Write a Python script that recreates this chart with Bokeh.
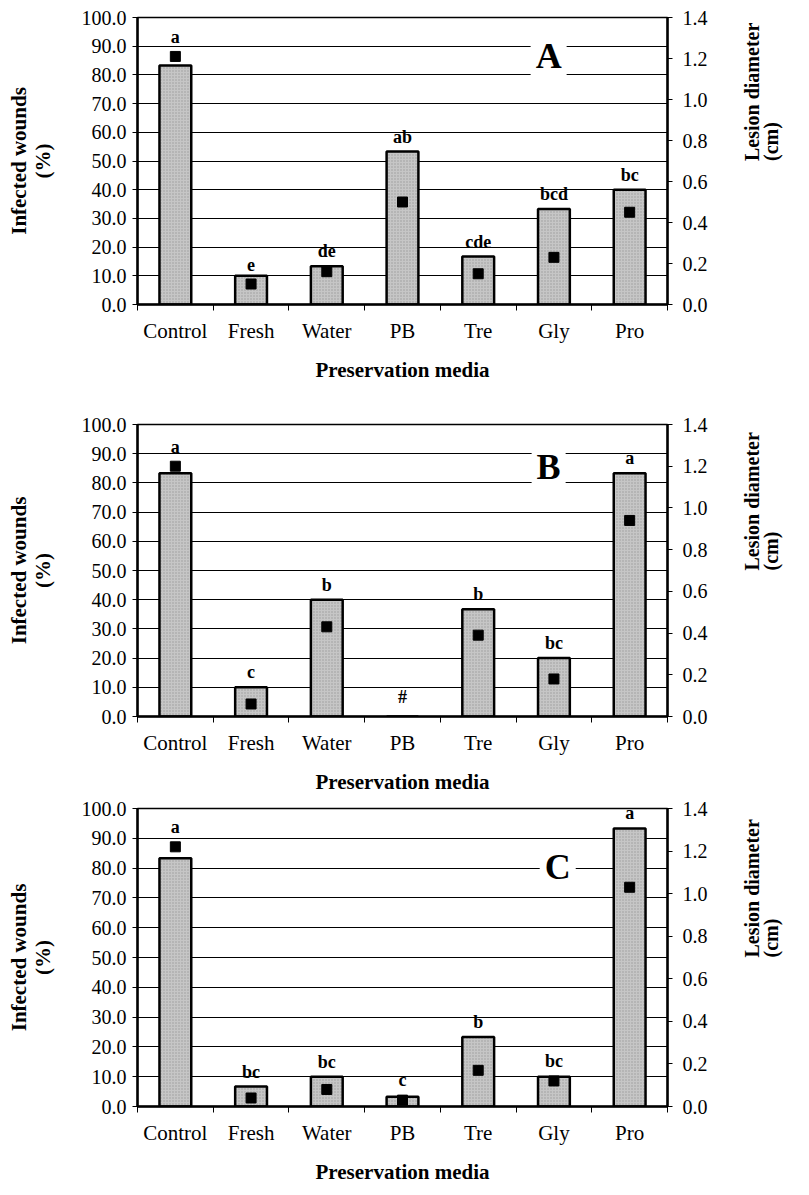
import math
import numpy as np
from bokeh.plotting import figure
from bokeh.models import Range1d, LinearAxis, FixedTicker, NumeralTickFormatter, Label, ColumnDataSource
from bokeh.layouts import column
from bokeh.embed import file_html
from bokeh.resources import INLINE
from bokeh.core.properties import value

categories = ["Control", "Fresh", "Water", "PB", "Tre", "Gly", "Pro"]

infected_A = [83.3, 10.0, 13.3, 53.3, 16.7, 33.3, 40.0]
lesion_A = [1.21, 0.10, 0.16, 0.50, 0.15, 0.23, 0.45]
letters_A = ["a", "e", "de", "ab", "cde", "bcd", "bc"]

infected_B = [83.3, 10.0, 40.0, 0.0, 36.7, 20.0, 83.3]
lesion_B = [1.20, 0.06, 0.43, np.nan, 0.39, 0.18, 0.94]
letters_B = ["a", "c", "b", "#", "b", "bc", "a"]

infected_C = [83.3, 6.7, 10.0, 3.3, 23.3, 10.0, 93.3]
lesion_C = [1.22, 0.04, 0.08, 0.03, 0.17, 0.12, 1.03]
letters_C = ["a", "bc", "bc", "c", "b", "bc", "a"]

left_ticks = [0, 10, 20, 30, 40, 50, 60, 70, 80, 90, 100]
right_ticks = [0.0, 0.2, 0.4, 0.6, 0.8, 1.0, 1.2, 1.4]

SERIF = value("Liberation Serif")


def make_panel(infected, lesion, letters, tag, tag_x, tag_y, height, top, bottom):
    n = len(categories)
    xs = np.arange(n) + 0.5
    p = figure(width=809, height=height, x_range=Range1d(0, n), y_range=Range1d(0, 100),
               output_backend="svg", toolbar_location=None,
               min_border_left=137, min_border_right=142,
               min_border_top=top, min_border_bottom=bottom)
    p.extra_y_ranges = {"lesion": Range1d(0, 1.4)}
    p.background_fill_color = "white"
    p.border_fill_color = "white"
    p.outline_line_color = "black"
    p.outline_line_width = 1.5

    les = np.array(lesion, dtype=float)
    inf = np.array(infected, dtype=float)
    src = ColumnDataSource(dict(x=xs, infected=inf, lesion=les,
                                letter=letters,
                                ly=np.maximum(inf, np.nan_to_num(les) / 1.4 * 100 + 1.6)))

    p.ygrid.ticker = FixedTicker(ticks=left_ticks)
    p.ygrid.grid_line_color = "black"
    p.ygrid.grid_line_width = 1
    p.xgrid.visible = False

    p.vbar(x="x", top="infected", bottom=0, width=0.42, source=src,
           fill_color="#c6c6c6", line_color="black", line_width=2.5,
           hatch_pattern="dot", hatch_scale=3, hatch_weight=1, hatch_color="#7a7a7a", hatch_alpha=0.6)
    p.scatter(x="x", y="lesion", source=src, y_range_name="lesion", marker="square",
              size=10, fill_color="black", line_color="black")
    p.text(x="x", y="ly", text="letter", source=src, text_align="center", text_baseline="bottom",
           y_offset=-5, text_font=SERIF, text_font_style="bold", text_font_size="18px", text_color="black")

    lab = Label(x=tag_x, y=tag_y, text=tag, text_align="center", text_baseline="middle",
                text_font="Liberation Serif", text_font_style="bold", text_font_size="36px",
                text_color="black",
                background_fill_color="white", background_fill_alpha=1.0, padding=5)
    p.add_layout(lab)

    # left axis
    ya = p.yaxis[0]
    ya.ticker = FixedTicker(ticks=left_ticks)
    ya.formatter = NumeralTickFormatter(format="0.0")
    ya.axis_label = "Infected wounds\n(%)"
    ya.axis_label_text_font = "Liberation Serif"
    ya.axis_label_text_font_style = "bold"
    ya.axis_label_text_font_size = "21px"
    ya.axis_label_text_line_height = 1.0
    ya.axis_label_text_color = "black"
    ya.axis_label_standoff = 24
    ya.major_label_text_font = "Liberation Serif"
    ya.major_label_text_font_size = "20px"
    ya.major_label_text_color = "black"
    ya.major_label_standoff = 6
    ya.major_tick_out = 5
    ya.major_tick_in = 0
    ya.minor_tick_line_color = None
    ya.axis_line_width = 2.5

    # right axis
    ra = LinearAxis(y_range_name="lesion", ticker=FixedTicker(ticks=right_ticks),
                    formatter=NumeralTickFormatter(format="0.0"))
    ra.axis_label = "Lesion diameter\n(cm)"
    ra.axis_label_text_font = "Liberation Serif"
    ra.axis_label_text_font_style = "bold"
    ra.axis_label_text_font_size = "20px"
    ra.axis_label_text_line_height = 0.9
    ra.axis_label_text_color = "black"
    ra.axis_label_text_baseline = "top"
    ra.axis_label_standoff = 51
    ra.axis_label_orientation = math.pi / 2
    ra.major_label_text_font = "Liberation Serif"
    ra.major_label_text_font_size = "20px"
    ra.major_label_text_color = "black"
    ra.major_label_standoff = 10
    ra.major_tick_out = 5
    ra.major_tick_in = 0
    ra.minor_tick_line_color = None
    ra.axis_line_width = 2.5
    p.add_layout(ra, "right")

    # bottom axis
    xa = p.xaxis[0]
    xa.ticker = FixedTicker(ticks=list(xs), minor_ticks=list(range(n + 1)))
    xa.major_label_overrides = {float(x): c for x, c in zip(xs, categories)}
    xa.major_tick_line_color = None
    xa.major_tick_out = 6
    xa.minor_tick_out = 6
    xa.minor_tick_in = 0
    xa.minor_tick_line_color = "black"
    xa.axis_line_width = 2.5
    xa.major_label_text_font = "Liberation Serif"
    xa.major_label_text_font_size = "21px"
    xa.major_label_text_color = "black"
    xa.major_label_standoff = 8
    xa.axis_label = "Preservation media"
    xa.axis_label_text_font = "Liberation Serif"
    xa.axis_label_text_font_style = "bold"
    xa.axis_label_text_font_size = "21px"
    xa.axis_label_text_color = "black"
    xa.axis_label_standoff = 12
    return p


pA = make_panel(infected_A, lesion_A, letters_A, "A", 5.43, 86.5, 400, 17, 96)
pB = make_panel(infected_B, lesion_B, letters_B, "B", 5.43, 85.5, 396, 24, 77)
pC = make_panel(infected_C, lesion_C, letters_C, "C", 5.55, 80.5, 399, 12, 89)

layout = column(pA, pB, pC, spacing=0)
open("out.html", "w").write(file_html(layout, INLINE))
